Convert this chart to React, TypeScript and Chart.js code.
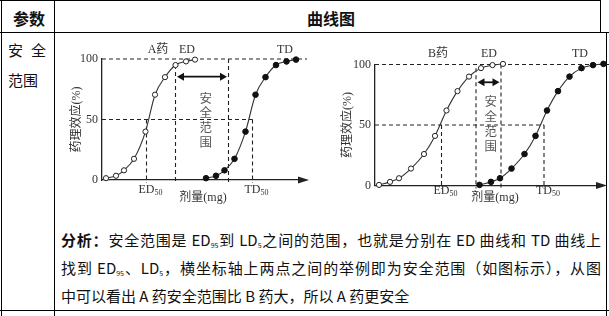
import React, { useEffect, useRef } from "react";
import { Chart, registerables } from "chart.js";

Chart.register(...registerables);

// ---------------- data ----------------
const yTicks = [0, 50, 100];
const yTitle = "药理效应(%)";
const xTitle = "剂量(mg)";
const safeText = "安全范围";
const markerNames = ["ED50", "ED95", "LD5", "TD50"];

// A药 (dose in mg units, response in %)
const doseA_ED = [4, 14, 22, 32, 43.5, 53, 63, 73.5, 84, 93];
const respA_ED = [1.5, 3.5, 8, 17.5, 40, 70.5, 85, 95, 98, 99.5];
const doseA_TD = [104, 114, 122.5, 132.5, 143.5, 153.5, 163.5, 174, 184.5, 194];
const respA_TD = [1.5, 3.5, 8, 17.5, 40, 70.5, 85, 95, 98, 99.5];
const markersA = [44.5, 73.5, 126.5, 150.5]; // ED50, ED95, LD5, TD50
const markerTopA = [50, 95, 100, 50];

// B药
const doseB_ED = [4, 15, 24, 36, 49, 60, 71.5, 82.5, 94, 106, 117.5, 128];
const respB_ED = [0.5, 3, 6, 14, 26, 41, 62, 78, 90, 97, 99.5, 100.5];
const doseB_TD = [104.5, 116, 125, 136.5, 149.5, 160.5, 172, 183, 194.5, 206.5, 218, 228.5];
const respB_TD = [0.5, 3, 6, 14, 26, 41, 62, 78, 90, 97, 99.5, 100.5];
const markersB = [66.5, 101, 126, 169];
const markerTopB = [50, 97, 100, 50];

// ---------------- layout configs ----------------
const SERIF = "'Liberation Serif', 'Noto Sans CJK SC', serif";
const CJK = "'Noto Sans CJK SC', sans-serif";

const cfgA = {
  drug: "A药",
  edX: doseA_ED, edY: respA_ED, tdX: doseA_TD, tdY: respA_TD,
  markers: markersA, tops: markerTopA,
  left: 58, top: 38, w: 262, h: 172,
  yAxisW: 44, padT: 21, padR: 18, xAxisH: 30, titlePad: 11.8,
  xMax: 200, xEnd: 205,
  drugX: 56, edLabelX: 85, tdLabelX: 183, topDy: -9,
  belowDy: 10, doseX: 101, doseDy: 18,
  safeX: 103.7, safeTop: 67.8, safeStep: 12.15, arrowY: 85.4,
};

const cfgB = {
  drug: "B药",
  edX: doseB_ED, edY: respB_ED, tdX: doseB_TD, tdY: respB_TD,
  markers: markersB, tops: markerTopB,
  left: 325, top: 38, w: 284, h: 172,
  yAxisW: 50, padT: 26.5, padR: 9, xAxisH: 24.5, titlePad: 16.1,
  xMax: 225, xEnd: 234,
  drugX: 63, edLabelX: 114, tdLabelX: 205, topDy: -11,
  belowDy: 5.5, doseX: 120, doseDy: 12.5,
  safeX: 115.7, safeTop: 69.8, safeStep: 12.4, arrowY: 85.3,
};

function buildDatasets(cfg: any) {
  const pts = (xs: number[], ys: number[]) => xs.map((x, i) => ({ x, y: ys[i] }));
  const dash = (data: any[]) => ({
    data,
    borderColor: "#222",
    borderWidth: 1.1,
    borderDash: [4, 3],
    pointRadius: 0,
    fill: false,
    tension: 0,
    clip: false,
  });
  const [, , , td50] = cfg.markers;
  return [
    {
      data: pts(cfg.edX, cfg.edY),
      borderColor: "#333",
      borderWidth: 1.1,
      pointRadius: 2.6,
      pointBackgroundColor: "#fff",
      pointBorderColor: "#222",
      pointBorderWidth: 1,
      cubicInterpolationMode: "monotone",
      clip: false,
    },
    {
      data: pts(cfg.tdX, cfg.tdY),
      borderColor: "#333",
      borderWidth: 1.1,
      pointRadius: 2.8,
      pointBackgroundColor: "#111",
      pointBorderColor: "#111",
      pointBorderWidth: 1,
      cubicInterpolationMode: "monotone",
      clip: false,
    },
    dash([{ x: 0, y: 100 }, { x: cfg.xEnd, y: 100 }]),
    dash([{ x: 0, y: 50 }, { x: td50, y: 50 }]),
    ...cfg.markers.map((m: number, i: number) =>
      dash([{ x: m, y: cfg.tops[i] }, { x: m, y: -2.5 }])
    ),
  ];
}

function makeAnnot(cfg: any) {
  return {
    id: "annot",
    afterDraw(chart: any) {
      const { ctx, chartArea } = chart;
      const xs = chart.scales.x;
      const ys = chart.scales.y;
      const px = (v: number) => xs.getPixelForValue(v);
      const py = (v: number) => ys.getPixelForValue(v);
      const [ed50, ed95, ld5, td50] = cfg.markers;
      ctx.save();
      // x-axis arrow head
      const ay = chartArea.bottom;
      ctx.fillStyle = "#222";
      ctx.beginPath();
      ctx.moveTo(chartArea.right + 7, ay);
      ctx.lineTo(chartArea.right - 4, ay - 3.6);
      ctx.lineTo(chartArea.right - 4, ay + 3.6);
      ctx.closePath();
      ctx.fill();

      // top labels
      ctx.fillStyle = "#333";
      ctx.textBaseline = "middle";
      ctx.textAlign = "center";
      ctx.font = `12px ${SERIF}`;
      const yTop = py(100) + cfg.topDy;
      ctx.fillText(cfg.drug, px(cfg.drugX), yTop);
      ctx.fillText("ED", px(cfg.edLabelX), yTop);
      ctx.fillText("TD", px(cfg.tdLabelX), yTop);

      // below-axis labels with subscripts
      const drawSub = (main: string, sub: string, cx: number, cy: number) => {
        ctx.font = `12px ${SERIF}`;
        const w = ctx.measureText(main).width;
        ctx.textAlign = "left";
        ctx.fillText(main, cx - w / 2, cy);
        ctx.font = `8px ${SERIF}`;
        ctx.fillText(sub, cx + w / 2, cy + 3);
      };
      const yBelow = ay + cfg.belowDy;
      drawSub(markerNames[0].slice(0, 2), markerNames[0].slice(2), px(ed50), yBelow);
      drawSub(markerNames[3].slice(0, 2), markerNames[3].slice(2), px(td50), yBelow);

      // dose axis title
      ctx.font = `12px ${SERIF}`;
      ctx.textAlign = "center";
      ctx.fillText(xTitle, px(cfg.doseX), ay + cfg.doseDy);

      // double arrow for safety range
      const yA = py(cfg.arrowY);
      const x1 = px(ed95) + 1.5;
      const x2 = px(ld5) - 1.5;
      ctx.strokeStyle = "#111";
      ctx.fillStyle = "#111";
      ctx.lineWidth = 1.8;
      ctx.beginPath();
      ctx.moveTo(x1 + 4, yA);
      ctx.lineTo(x2 - 4, yA);
      ctx.stroke();
      ctx.beginPath();
      ctx.moveTo(x1, yA);
      ctx.lineTo(x1 + 7, yA - 4);
      ctx.lineTo(x1 + 7, yA + 4);
      ctx.closePath();
      ctx.fill();
      ctx.beginPath();
      ctx.moveTo(x2, yA);
      ctx.lineTo(x2 - 7, yA - 4);
      ctx.lineTo(x2 - 7, yA + 4);
      ctx.closePath();
      ctx.fill();

      // vertical 安全范围
      ctx.fillStyle = "#555";
      ctx.font = `12.5px ${CJK}`;
      ctx.textAlign = "center";
      const sx = px(cfg.safeX);
      const sy0 = py(cfg.safeTop);
      const stepPx = py(0) - py(cfg.safeStep);
      Array.from(safeText).forEach((ch, i) => {
        ctx.fillText(ch, sx, sy0 + i * stepPx);
      });
      ctx.restore();
    },
  };
}

function DoseChart({ cfg }: { cfg: any }) {
  const ref = useRef<HTMLCanvasElement>(null);
  useEffect(() => {
    const chart = new Chart(ref.current as HTMLCanvasElement, {
      type: "line",
      data: { datasets: buildDatasets(cfg) as any },
      options: {
        animation: false,
        responsive: false,
        maintainAspectRatio: false,
        layout: { padding: { left: 0, right: cfg.padR, top: cfg.padT, bottom: 0 } },
        plugins: { legend: { display: false }, tooltip: { enabled: false } },
        scales: {
          x: {
            type: "linear",
            min: 0,
            max: cfg.xMax,
            afterFit: (s: any) => {
              s.height = cfg.xAxisH;
            },
            grid: { display: false, drawTicks: false },
            ticks: { display: false },
            border: { display: true, color: "#222", width: 1.3 },
          },
          y: {
            min: 0,
            max: 100,
            afterBuildTicks: (s: any) => {
              s.ticks = yTicks.map((v) => ({ value: v }));
            },
            afterFit: (s: any) => {
              s.width = cfg.yAxisW;
            },
            grid: { display: false, drawTicks: false },
            border: { display: true, color: "#222", width: 1.3 },
            ticks: { padding: 4, color: "#333", font: { family: SERIF, size: 12 } },
            title: {
              display: true,
              text: yTitle,
              color: "#333",
              font: { family: SERIF, size: 12 },
              padding: { top: cfg.titlePad, bottom: 0 },
            },
          },
        },
      } as any,
      plugins: [makeAnnot(cfg)],
    });
    return () => chart.destroy();
  }, []);
  return (
    <canvas
      ref={ref}
      width={cfg.w}
      height={cfg.h}
      style={{ position: "absolute", left: cfg.left, top: cfg.top, width: cfg.w, height: cfg.h }}
    />
  );
}

const Line = ({ l, t, w, h }: { l: number; t: number; w: number; h: number }) => (
  <div style={{ position: "absolute", left: l, top: t, width: w, height: h, background: "#000" }} />
);

const Sub = ({ children }: { children: any }) => (
  <span style={{ fontSize: 7, verticalAlign: -2, lineHeight: 0 }}>{children}</span>
);

export default function App() {
  const justified: React.CSSProperties = {
    height: 28,
    lineHeight: "28px",
    whiteSpace: "nowrap",
    textAlign: "justify",
    textAlignLast: "justify" as any,
  };
  return (
    <div
      style={{
        position: "fixed",
        left: 0,
        top: 0,
        width: 609,
        height: 316,
        background: "#fff",
        overflow: "hidden",
        fontFamily: CJK,
        color: "#111",
      }}
    >
      {/* table borders */}
      <Line l={0} t={0} w={601} h={1} />
      <Line l={1} t={0} w={1} h={316} />
      <Line l={54} t={0} w={1} h={316} />
      <Line l={600} t={0} w={1} h={33} />
      <Line l={0} t={32} w={609} h={1} />
      <Line l={606} t={32} w={1} h={284} />
      <Line l={0} t={310} w={609} h={1} />

      {/* header */}
      <div style={{ position: "absolute", left: 1, top: 0, width: 56, height: 36, lineHeight: "36px", textAlign: "center", fontWeight: 700, fontSize: 16 }}>
        参数
      </div>
      <div style={{ position: "absolute", left: 54, top: 0, width: 554, height: 36, lineHeight: "36px", textAlign: "center", fontWeight: 700, fontSize: 16 }}>
        曲线图
      </div>

      {/* left cell */}
      <div style={{ position: "absolute", left: 8, top: 35, width: 38, fontSize: 15, lineHeight: "30px" }}>
        <div style={{ display: "flex", justifyContent: "space-between" }}>
          <span>安</span>
          <span>全</span>
        </div>
        <div>范围</div>
      </div>

      <DoseChart cfg={cfgA} />
      <DoseChart cfg={cfgB} />

      {/* analysis */}
      <div style={{ position: "absolute", left: 61, top: 226, width: 540, fontSize: 15 }}>
        <div style={justified}>
          <b>分析：</b>安全范围是 ED<Sub>95</Sub>到 LD<Sub>5</Sub>之间的范围，也就是分别在 ED 曲线和 TD 曲线上
        </div>
        <div style={justified}>
          找到 ED<Sub>95</Sub>、LD<Sub>5</Sub>，横坐标轴上两点之间的举例即为安全范围（如图标示），从图
        </div>
        <div style={{ height: 28, lineHeight: "28px", whiteSpace: "nowrap" }}>
          中可以看出 A 药安全范围比 B 药大，所以 A 药更安全
        </div>
      </div>
    </div>
  );
}
